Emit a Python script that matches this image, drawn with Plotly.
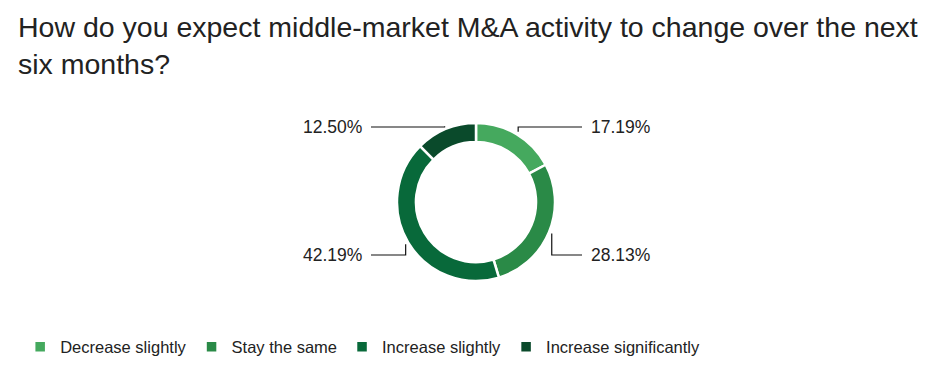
import math
import plotly.graph_objects as go

# ---- data ----
categories = ["Decrease slightly", "Stay the same", "Increase slightly", "Increase significantly"]
values = [17.19, 28.13, 42.19, 12.50]
labels = ["17.19%", "28.13%", "42.19%", "12.50%"]
colors = ["#45A95E", "#2A8A47", "#08693A", "#0A4A2B"]

title = "How do you expect middle-market M&A activity to change over the next<br>six months?"

# ---- layout constants (pixels) ----
W, H = 936, 378
OFF = 8  # page body margin compensation
CX, CY, R = 476 - OFF, 202 - OFF, 79
HOLE = 0.76
R_TICK = 82
TOP_ROW, BOT_ROW = CY - 75, CY + 53
RIGHT_END, LEFT_END = CX + 106, CX - 105
GAP = 7
TXT = "#222222"
FONT = "Liberation Sans, Arial, Helvetica, sans-serif"

fig = go.Figure()

fig.add_trace(go.Pie(
    labels=categories, values=values, sort=False, direction="clockwise", rotation=0,
    hole=HOLE, textinfo="none", hoverinfo="label+percent",
    marker=dict(colors=colors, line=dict(color="white", width=2.5)),
    domain=dict(x=[(CX - R) / W, (CX + R) / W], y=[(H - CY - R) / H, (H - CY + R) / H]),
    showlegend=True,
))

total = sum(values)
cum = 0.0
annotations = []
for v, lab in zip(values, labels):
    mid = (cum + v / 2) / total * 2 * math.pi
    cum += v
    s, c = math.sin(mid), math.cos(mid)
    x0, y0 = CX + R_TICK * s, CY - R_TICK * c
    row = TOP_ROW if c > 0 else BOT_ROW
    xe = RIGHT_END if s > 0 else LEFT_END
    fig.add_trace(go.Scatter(x=[x0, x0, xe], y=[y0, row, row], mode="lines",
                             line=dict(color="#111111", width=1.2), hoverinfo="skip",
                             showlegend=False, xaxis="x", yaxis="y"))
    annotations.append(dict(x=xe + GAP if s > 0 else xe - GAP, y=row, xref="x", yref="y",
                            text=lab, showarrow=False,
                            xanchor="left" if s > 0 else "right", yanchor="middle",
                            font=dict(size=17.5, color=TXT, family=FONT)))

annotations.append(dict(x=(17 - OFF - 1) / W, y=1 - 1 / H, xref="paper", yref="paper",
                        xanchor="left", yanchor="top", align="left", showarrow=False,
                        text=title, font=dict(size=28.5, color=TXT, family=FONT)))

fig.update_layout(
    width=W, height=H, paper_bgcolor="white", plot_bgcolor="white",
    margin=dict(l=0, r=0, t=0, b=0),
    xaxis=dict(range=[0, W], visible=False, fixedrange=True),
    yaxis=dict(range=[H, 0], visible=False, fixedrange=True),
    legend=dict(orientation="h", x=0.013, xanchor="left", y=1 - (347 - OFF) / H,
                yanchor="middle", font=dict(size=16.5, color=TXT, family=FONT),
                traceorder="normal"),
    annotations=annotations,
)

fig.write_html("out.html")
